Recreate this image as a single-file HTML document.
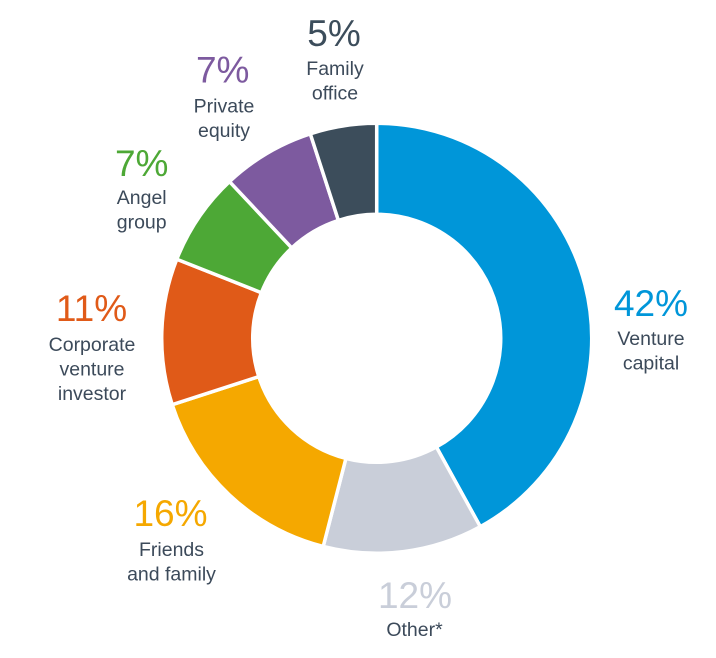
<!DOCTYPE html>
<html><head><meta charset="utf-8"><style>
html,body{margin:0;padding:0;background:#fff;}
svg{display:block;}
.p{font-family:"Liberation Sans",sans-serif;font-size:37px;text-anchor:middle;}
.l{font-family:"Liberation Sans",sans-serif;font-size:19.5px;text-anchor:middle;fill:#3C4A5A;}
</style></head><body>
<svg width="716" height="658" viewBox="0 0 716 658" xmlns="http://www.w3.org/2000/svg">
<g stroke="#fff" stroke-width="3.5" stroke-linejoin="miter">
<path d="M376.7 123.3 A215 215 0 0 1 480.3 526.7 L436.4 447.0 A124 124 0 0 0 376.7 214.3 Z" fill="#0096D9"/>
<path d="M480.3 526.7 A215 215 0 0 1 323.2 546.5 L345.9 458.4 A124 124 0 0 0 436.4 447.0 Z" fill="#C9CED9"/>
<path d="M323.2 546.5 A215 215 0 0 1 172.2 404.7 L258.8 376.6 A124 124 0 0 0 345.9 458.4 Z" fill="#F5A800"/>
<path d="M172.2 404.7 A215 215 0 0 1 176.8 259.2 L261.4 292.7 A124 124 0 0 0 258.8 376.6 Z" fill="#E05A18"/>
<path d="M176.8 259.2 A215 215 0 0 1 229.5 181.6 L291.8 247.9 A124 124 0 0 0 261.4 292.7 Z" fill="#4DA836"/>
<path d="M229.5 181.6 A215 215 0 0 1 310.3 133.8 L338.4 220.4 A124 124 0 0 0 291.8 247.9 Z" fill="#7D5A9F"/>
<path d="M310.3 133.8 A215 215 0 0 1 376.7 123.3 L376.7 214.3 A124 124 0 0 0 338.4 220.4 Z" fill="#3C4D5B"/>
</g>
<text class="p" x="651" y="316" fill="#0096D9">42%</text>
<text class="l" x="651" y="345">Venture</text>
<text class="l" x="651" y="369.5">capital</text>

<text class="p" x="415" y="608" fill="#C9CED9">12%</text>
<text class="l" x="414.5" y="636">Other*</text>

<text class="p" x="170.5" y="526" fill="#F5A800">16%</text>
<text class="l" x="171.5" y="556">Friends</text>
<text class="l" x="171.5" y="580.5">and family</text>

<text class="p" x="91.5" y="321" fill="#E05A18">11%</text>
<text class="l" x="92" y="351">Corporate</text>
<text class="l" x="92" y="375.5">venture</text>
<text class="l" x="92" y="400">investor</text>

<text class="p" x="141.7" y="176" fill="#4DA836">7%</text>
<text class="l" x="141.7" y="204">Angel</text>
<text class="l" x="141.7" y="228.5">group</text>

<text class="p" x="222.7" y="82.5" fill="#7D5A9F">7%</text>
<text class="l" x="224" y="112.5">Private</text>
<text class="l" x="224" y="137">equity</text>

<text class="p" x="334" y="46" fill="#3C4D5B">5%</text>
<text class="l" x="335" y="75">Family</text>
<text class="l" x="335" y="99.5">office</text>
</svg>
</body></html>
